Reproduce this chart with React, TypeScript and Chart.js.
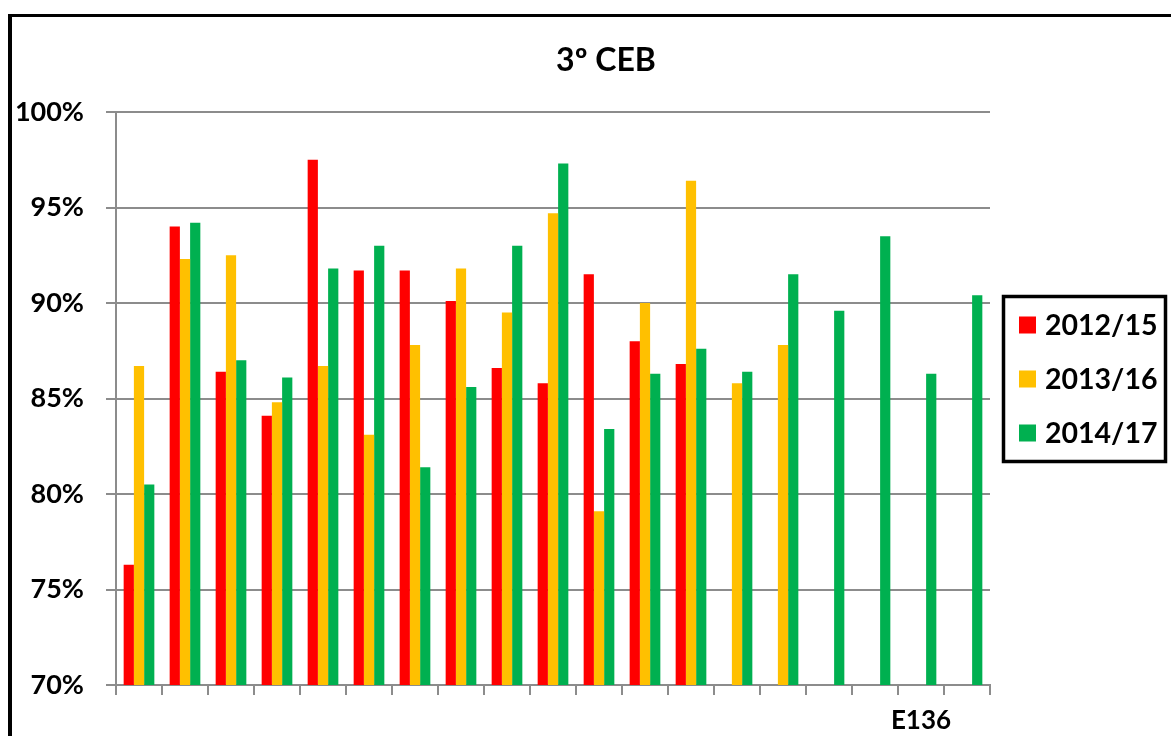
import React, { useEffect, useRef } from "react";
import { Chart, registerables } from "chart.js";

Chart.register(...registerables);

const chartTitle = "3º CEB";
const categories = ["", "", "", "", "", "", "", "", "", "", "", "", "", "", "", "", "", "E136", ""];
const seriesNames = ["2012/15", "2013/16", "2014/17"];
const seriesColors = ["#FF0000", "#FFC000", "#00B050"];
const values2012 = [76.3, 94.0, 86.4, 84.1, 97.5, 91.7, 91.7, 90.1, 86.6, 85.8, 91.5, 88.0, 86.8, null, null, null, null, null, null];
const values2013 = [86.7, 92.3, 92.5, 84.8, 86.7, 83.1, 87.8, 91.8, 89.5, 94.7, 79.1, 90.0, 96.4, 85.8, 87.8, null, null, null, null];
const values2014 = [80.5, 94.2, 87.0, 86.1, 91.8, 93.0, 81.4, 85.6, 93.0, 97.3, 83.4, 86.3, 87.6, 86.4, 91.5, 89.6, 93.5, 86.3, 90.4];
const yMin = 70;
const yMax = 100;
const yStep = 5;

const FONT = "Lato, 'Liberation Sans', sans-serif";

const decorPlugin = {
  id: "decor",
  afterDraw(chart: any) {
    const ctx = chart.ctx as CanvasRenderingContext2D;
    ctx.save();
    // outer frame (top and left edges visible)
    ctx.fillStyle = "#000";
    ctx.fillRect(8, 14, 1171, 3);
    ctx.fillRect(8, 14, 4, 736);
    // title
    ctx.font = `bold 32px ${FONT}`;
    ctx.textAlign = "center";
    ctx.textBaseline = "middle";
    ctx.fillText(chartTitle, 606, 61);
    // legend box
    ctx.lineWidth = 3.5;
    ctx.strokeStyle = "#000";
    ctx.beginPath();
    ctx.rect(1003.5, 296.5, 162, 165);
    ctx.stroke();
    ctx.font = `bold 28.5px ${FONT}`;
    ctx.textAlign = "left";
    const rows = [325, 379, 433];
    seriesNames.forEach((name, i) => {
      ctx.fillStyle = seriesColors[i];
      ctx.fillRect(1019, rows[i] - 8.5, 17, 17);
      ctx.fillStyle = "#000";
      ctx.fillText(name, 1045, rows[i] + 1);
    });
    ctx.restore();
  },
};

export default function App() {
  const ref = useRef<HTMLCanvasElement | null>(null);
  useEffect(() => {
    if (!ref.current) return;
    const chart = new Chart(ref.current, {
      type: "bar",
      data: {
        labels: categories,
        datasets: [values2012, values2013, values2014].map((d, i) => ({
          label: seriesNames[i],
          data: d as any,
          backgroundColor: seriesColors[i],
          borderWidth: 0,
          categoryPercentage: 0.667,
          barPercentage: 1.0,
        })),
      },
      options: {
        responsive: false,
        animation: false,
        layout: { padding: { left: 0, top: 112, right: 181, bottom: 0 } },
        plugins: {
          legend: { display: false },
          title: { display: false },
          tooltip: { enabled: false },
        },
        scales: {
          x: {
            offset: true,
            grid: {
              display: true,
              drawOnChartArea: false,
              drawTicks: true,
              tickLength: 10,
              color: "#8c8c8c",
              lineWidth: 2,
              offset: true,
            },
            border: { display: true, color: "#8c8c8c", width: 2 },
            ticks: {
              autoSkip: false,
              maxRotation: 0,
              minRotation: 0,
              padding: 10,
              color: "#000",
              font: { family: FONT, size: 26, weight: "bold" },
            },
            afterFit(scale: any) {
              scale.height = 51;
            },
          },
          y: {
            min: yMin,
            max: yMax,
            ticks: {
              stepSize: yStep,
              padding: 22,
              color: "#000",
              font: { family: FONT, size: 27, weight: "bold" },
              callback: (v: any) => `${v}%`,
            },
            grid: {
              color: "#8c8c8c",
              lineWidth: 2,
              drawTicks: true,
              tickLength: 10,
            },
            border: { display: true, color: "#8c8c8c", width: 2 },
            afterFit(scale: any) {
              scale.width = 116;
            },
          },
        },
      },
      plugins: [decorPlugin],
    });
    return () => chart.destroy();
  }, []);
  return (
    <div style={{ position: "fixed", left: 0, top: 0, width: 1171, height: 736, background: "#fff" }}>
      <canvas ref={ref} width={1171} height={736} style={{ display: "block" }} />
    </div>
  );
}
